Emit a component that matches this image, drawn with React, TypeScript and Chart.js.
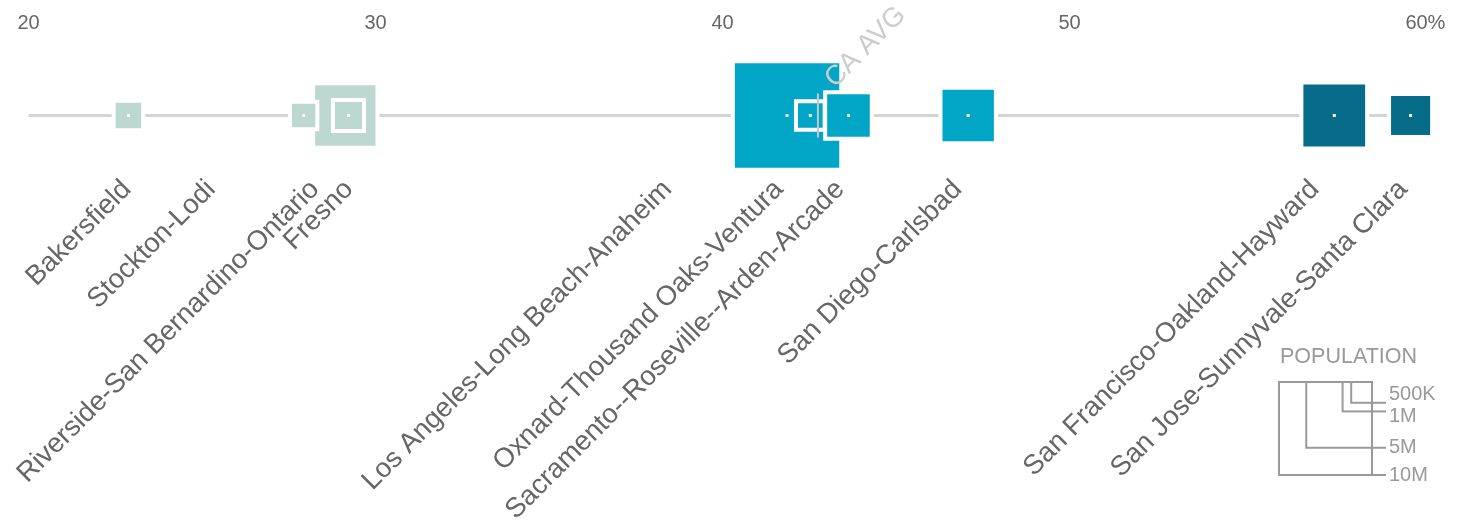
import React, { useEffect, useRef } from 'react';
import { Chart, registerables } from 'chart.js';

Chart.register(...registerables);

// ---------- data ----------
const cities = [
  'Bakersfield',
  'Stockton-Lodi',
  'Riverside-San Bernardino-Ontario',
  'Fresno',
  'Los Angeles-Long Beach-Anaheim',
  'Oxnard-Thousand Oaks-Ventura',
  'Sacramento--Roseville--Arden-Arcade',
  'San Diego-Carlsbad',
  'San Francisco-Oakland-Hayward',
  'San Jose-Sunnyvale-Santa Clara',
];
const shares = [22.88, 27.93, 29.13, 29.22, 41.86, 42.53, 43.63, 47.08, 57.63, 59.83];
const populations = [880000, 740000, 4500000, 980000, 13100000, 820000, 2300000, 3300000, 4700000, 1950000];
const caAverage = 42.75;
const xTicks = [20, 30, 40, 50, 60];
const legendPops = [10000000, 5000000, 1000000, 500000];
const legendLabels = ['10M', '5M', '1M', '500K'];

// ---------- layout / style ----------
const FONT = '"Liberation Sans", Arial, sans-serif';
const SIDE_10M = 93;
const side = (p: number) => SIDE_10M * Math.sqrt(p / 1e7);
const BORDER = 4;
const LABEL_FONT = 27.5;
const LABEL_NUDGE = [4, -87, -25, 6, -114, -26, -3, -5, -14, -2];
const LABEL_DY = 75;
const LEGEND_NUDGE = [0, 0, 5, -8];
const colorFor = (v: number) => (v < 35 ? '#bdd8d0' : v < 55 ? '#01a6c7' : '#076b8a');

const overlay = {
  id: 'overlay',
  afterDatasetsDraw(chart: any) {
    const ctx = chart.ctx as CanvasRenderingContext2D;
    const xs = chart.scales.x;
    const y0 = chart.scales.y.getPixelForValue(0);

    // CA average marker
    const ax = xs.getPixelForValue(caAverage);
    ctx.save();
    ctx.strokeStyle = '#c8c8c8';
    ctx.lineWidth = 2;
    ctx.beginPath();
    ctx.moveTo(ax, y0 - 22);
    ctx.lineTo(ax, y0 + 22);
    ctx.stroke();
    ctx.translate(ax + 17, y0 - 27);
    ctx.rotate(-Math.PI / 4);
    ctx.font = `${LABEL_FONT}px ${FONT}`;
    ctx.fillStyle = '#cccccc';
    ctx.textAlign = 'left';
    ctx.textBaseline = 'alphabetic';
    ctx.fillText('CA AVG', 0, 0);
    ctx.restore();

    // city labels
    ctx.save();
    ctx.font = `${LABEL_FONT}px ${FONT}`;
    ctx.fillStyle = '#666666';
    cities.forEach((name, i) => {
      const px = xs.getPixelForValue(shares[i]) + LABEL_NUDGE[i];
      ctx.save();
      ctx.translate(px, y0 + LABEL_DY);
      ctx.rotate(-Math.PI / 4);
      ctx.textAlign = 'right';
      ctx.textBaseline = 'alphabetic';
      ctx.fillText(name, 0, 0);
      ctx.restore();
    });
    ctx.restore();
  },
  afterDraw(chart: any) {
    const ctx = chart.ctx as CanvasRenderingContext2D;
    const xs = chart.scales.x;

    // "%" after the last tick label
    const items = xs.getLabelItems();
    if (items.length) {
      const last = items[items.length - 1];
      const [tx, ty] = last.options.translation;
      ctx.save();
      ctx.font = `20px ${FONT}`;
      ctx.fillStyle = '#666666';
      ctx.textAlign = 'left';
      ctx.textBaseline = last.options.textBaseline;
      const w = ctx.measureText(String(last.label)).width;
      ctx.fillText('%', tx + w / 2, ty + (last.textOffset || 0));
      ctx.restore();
    }

    // population legend
    const right = 1372;
    const top = 382;
    ctx.save();
    ctx.fillStyle = '#999999';
    ctx.font = `21.5px ${FONT}`;
    ctx.textAlign = 'left';
    ctx.textBaseline = 'alphabetic';
    ctx.fillText('POPULATION', 1280, 363);
    ctx.strokeStyle = '#9a9a9a';
    ctx.lineWidth = 2;
    ctx.font = `20px ${FONT}`;
    ctx.textBaseline = 'middle';
    legendPops.forEach((p, i) => {
      const s = side(p);
      ctx.strokeRect(right - s, top, s, s);
      ctx.beginPath();
      ctx.moveTo(right, top + s);
      ctx.lineTo(right + 14, top + s);
      ctx.stroke();
      ctx.fillText(legendLabels[i], right + 17, top + s + LEGEND_NUDGE[i]);
    });
    ctx.restore();
  },
};

export default function App() {
  const ref = useRef<HTMLCanvasElement>(null);
  useEffect(() => {
    Chart.defaults.font.family = FONT;
    const cityDatasets = cities.map((name, i) => {
      const r = (side(populations[i]) + 2) / Math.SQRT2;
      return {
        label: name,
        data: [
          { x: shares[i], y: 0 },
          { x: shares[i], y: 0 },
        ],
        pointStyle: 'rect',
        pointRadius: [r, 2.1],
        pointHoverRadius: [r, 2.1],
        pointBackgroundColor: [colorFor(shares[i]), '#ffffff'],
        pointBorderColor: '#ffffff',
        pointBorderWidth: [BORDER, 0],
        pointHoverBorderWidth: [BORDER, 0],
        showLine: false,
        order: populations[i],
        clip: false,
      };
    });
    const chart = new Chart(ref.current!, {
      type: 'scatter',
      data: {
        datasets: [
          {
            label: 'base',
            data: [
              { x: xTicks[0], y: 0 },
              { x: xTicks[xTicks.length - 1], y: 0 },
            ],
            showLine: true,
            borderColor: '#d4d4d4',
            borderWidth: 3,
            pointRadius: 0,
            order: 1e12,
            clip: false,
          } as any,
          ...(cityDatasets as any[]),
        ],
      },
      options: {
        animation: false,
        responsive: true,
        maintainAspectRatio: false,
        events: [],
        layout: { autoPadding: false, padding: { top: 8, bottom: 336, left: 28.5, right: 44.5 } },
        plugins: { legend: { display: false }, tooltip: { enabled: false } },
        scales: {
          x: {
            type: 'linear',
            position: 'top',
            min: 20,
            max: 60,
            afterBuildTicks: (s: any) => {
              s.ticks = xTicks.map((v) => ({ value: v }));
            },
            ticks: {
              color: '#666666',
              font: { size: 20, family: FONT },
              padding: 3,
              maxRotation: 0,
              autoSkip: false,
            },
            grid: { display: false, drawTicks: false },
            border: { display: false },
          },
          y: { display: false, min: -1, max: 1 },
        },
      },
      plugins: [overlay],
    });
    return () => chart.destroy();
  }, []);
  return (
    <div style={{ position: 'fixed', left: 0, top: 0, width: 1461, height: 529 }}>
      <canvas ref={ref} />
    </div>
  );
}
